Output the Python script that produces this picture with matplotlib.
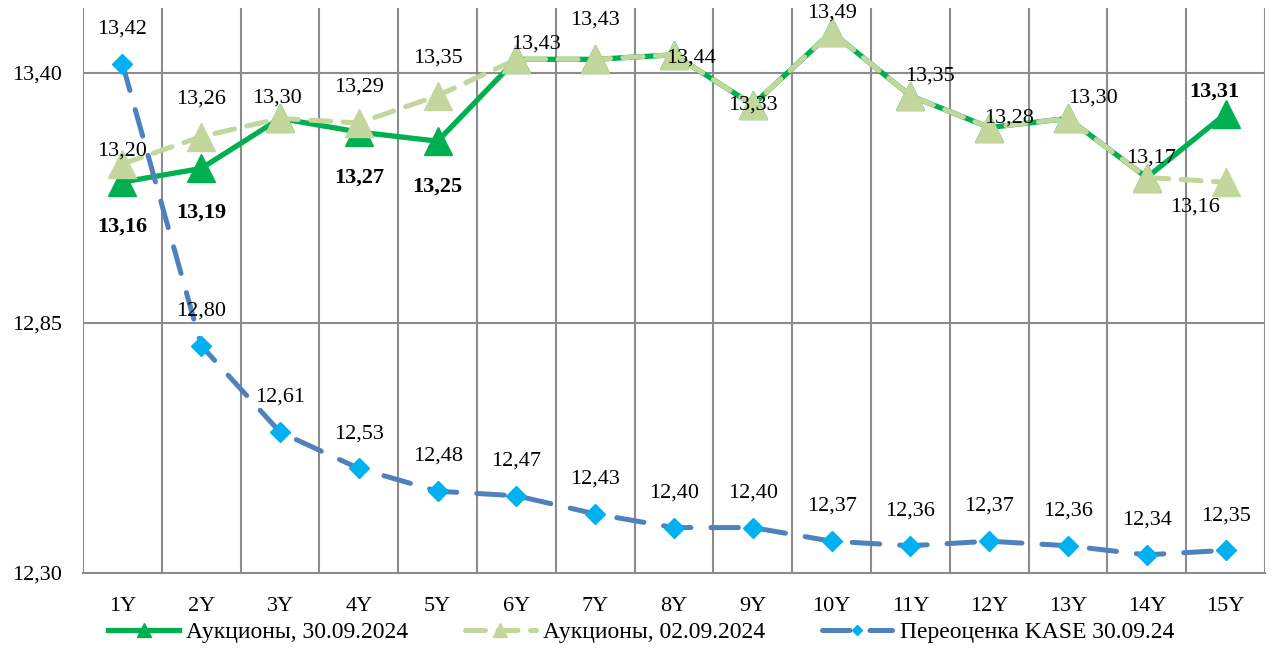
import numpy as np
import matplotlib.pyplot as plt

plt.rcParams['font.family'] = ['Liberation Serif', 'DejaVu Serif']

tenors = ["1Y", "2Y", "3Y", "4Y", "5Y", "6Y", "7Y", "8Y", "9Y", "10Y",
          "11Y", "12Y", "13Y", "14Y", "15Y"]
auction_sep30 = [13.16, 13.19, 13.30, 13.27, 13.25, 13.43, 13.43, 13.44,
                 13.33, 13.49, 13.35, 13.28, 13.30, 13.17, 13.31]
auction_sep02 = [13.20, 13.26, 13.30, 13.29, 13.35, 13.43, 13.43, 13.44,
                 13.33, 13.49, 13.35, 13.28, 13.30, 13.17, 13.16]
kase_sep30 = [13.42, 12.80, 12.61, 12.53, 12.48, 12.47, 12.43, 12.40,
              12.40, 12.37, 12.36, 12.37, 12.36, 12.34, 12.35]
y_ticks = [12.30, 12.85, 13.40]

# which auction 30.09 points get a bold label (others overlap the 02.09 labels)
bold_idx = [0, 1, 3, 4, 14]
# label offsets in points (dx, dy)
bold_off = {0: (0, -32), 1: (0, -32), 3: (0, -33), 4: (0, -33), 14: (-8, 16)}
sep02_off = [(0, 9), (0, 27), (-2, 15), (0, 26), (0, 27), (14, 11), (0, 28),
             (12, -2), (0, 0), (0, 14), (14, 14), (14, 7), (18, 15), (3, 14),
             (-22, -18)]

GREEN = "#00B050"
LIGHT = "#C3D69B"
BLUE = "#4F81BD"
CYAN = "#00B0F0"
GRID = "#8C8C8C"
FS = 16

x = np.arange(1, len(tenors) + 1)

fig = plt.figure(figsize=(12.72, 6.48), dpi=100)
ax = fig.add_axes([0.0653, 0.1157, 0.9292, 0.872])

ax.plot(x, auction_sep30, color=GREEN, lw=3.8, marker="^", ms=20,
        solid_joinstyle="round", label="Аукционы, 30.09.2024", zorder=3)
ax.plot(x, auction_sep02, color=LIGHT, lw=3.6, marker="^", ms=20,
        linestyle=(0, (4, 2.5)), dash_capstyle="round",
        label="Аукционы, 02.09.2024", zorder=4)
ax.plot(x, kase_sep30, color=BLUE, lw=3.6, marker="D", ms=10,
        markerfacecolor=CYAN, markeredgecolor=CYAN,
        linestyle=(0, (5.5, 4)), dash_capstyle="round",
        label="Переоценка KASE 30.09.24", zorder=5)

def fmt(v):
    return f"{v:.2f}".replace(".", ",")

for i in bold_idx:
    dx, dy = bold_off[i]
    ax.annotate(fmt(auction_sep30[i]), (x[i], auction_sep30[i]),
                xytext=(dx, dy), textcoords="offset points", ha="center",
                va="center", fontsize=FS, fontweight="bold", zorder=6)
for i, v in enumerate(auction_sep02):
    dx, dy = sep02_off[i]
    ax.annotate(fmt(v), (x[i], v), xytext=(dx, dy), textcoords="offset points",
                ha="center", va="center", fontsize=FS, zorder=6)
for i, v in enumerate(kase_sep30):
    ax.annotate(fmt(v), (x[i], v), xytext=(0, 25), textcoords="offset points",
                ha="center", va="center", fontsize=FS, zorder=6)

ax.set_xlim(0.5, len(tenors) + 0.5)
ax.set_ylim(12.30, 13.543)
ax.set_xticks(x)
ax.set_xticklabels(tenors, fontsize=FS)
ax.set_yticks(y_ticks)
ax.set_yticklabels([fmt(v) for v in y_ticks], fontsize=FS)
ax.tick_params(length=0)
ax.tick_params(axis="x", pad=17)
ax.tick_params(axis="y", pad=15)

for xb in np.arange(0.5, len(tenors) + 1, 1.0):
    ax.axvline(xb, color=GRID, lw=1.5, zorder=1)
for yv in y_ticks[1:]:
    ax.axhline(yv, color=GRID, lw=1.5, zorder=1)
for s in ["top", "right", "left"]:
    ax.spines[s].set_visible(False)
ax.spines["bottom"].set_color(GRID)
ax.spines["bottom"].set_linewidth(1.5)

fig.legend(loc="center", bbox_to_anchor=(0.504, 0.024), ncol=3, frameon=False,
           fontsize=17, handlelength=3.0, columnspacing=2.4, markerscale=0.5,
           handletextpad=0.3)

fig.savefig("out.png", dpi=100)
